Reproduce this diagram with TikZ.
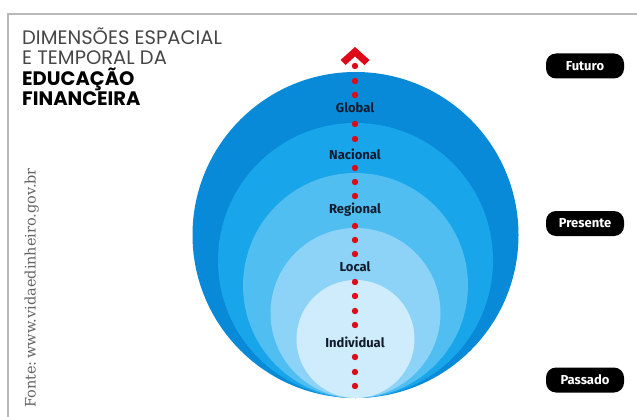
\documentclass[tikz,border=0pt]{standalone}
\usepackage{fontspec}
\setmainfont{Fira Sans}
\newfontfamily\titlefont{Poppins}
\newfontfamily\srcfont{DejaVu Serif}
\definecolor{ringA}{RGB}{8,138,216}
\definecolor{ringB}{RGB}{24,165,233}
\definecolor{ringC}{RGB}{80,190,241}
\definecolor{ringD}{RGB}{140,211,247}
\definecolor{ringE}{RGB}{206,236,251}
\definecolor{dotred}{RGB}{222,10,25}
\definecolor{labelnavy}{RGB}{18,28,45}
\definecolor{framegrey}{RGB}{185,185,185}
\definecolor{titlegrey}{RGB}{70,70,70}
\definecolor{srcgrey}{RGB}{100,100,100}
\tikzset{
  ringlabel/.style={font=\bfseries\fontsize{13}{15}\selectfont, text=labelnavy, inner sep=1pt},
  pill/.style={fill=black, rounded corners=10pt, minimum width=78pt, minimum height=25pt, text=white, font=\bfseries\fontsize{13}{14}\selectfont, inner sep=0pt},
  reddot/.style={fill=dotred, draw=none},
  titlelight/.style={font=\titlefont\fontsize{19.5}{21}\selectfont, text=titlegrey, anchor=base west, inner sep=0pt},
  titlebold/.style={font=\titlefont\bfseries\fontsize{19.5}{21}\selectfont, text=black, anchor=base west, inner sep=0pt}
}
\begin{document}
\begin{tikzpicture}[x=1pt,y=-1pt]
\useasboundingbox (0,0) rectangle (637,417);
\fill[white] (0,0) rectangle (637,417);
% frame
\draw[framegrey, line width=1.2pt] (8,417) -- (8,14) -- (637,14);
% rings
\fill[ringA] (355.5,235) circle (163);
\fill[ringB] (355.5,260.5) circle (137.5);
\fill[ringC] (355.5,285.5) circle (112.5);
\fill[ringD] (355.5,313) circle (85);
\fill[ringE] (355.5,339) circle (59);
% dotted arrow
\foreach \yy in {66,81,95,124,139,168,182,196,226,240,254,282,296,311,325,357,372,386}
  \fill[reddot] (355,\yy) circle (3.2);
\fill[reddot] (355,47) -- (369.5,60) -- (364.5,65) -- (355,56.5) -- (345.5,65) -- (340.5,60) -- cycle;
% ring labels
\node[ringlabel] (global) at (355,108) {Global};
\node[ringlabel] (nacional) at (355,154) {Nacional};
\node[ringlabel] (regional) at (355,210) {Regional};
\node[ringlabel] (local) at (355,267) {Local};
\node[ringlabel] (individual) at (355,342) {Individual};
% pills
\node[pill] (futuro) at (585,66) {Futuro};
\node[pill] (presente) at (585,223.5) {Presente};
\node[pill] (passado) at (585,380) {Passado};
% title
\node[titlelight] (t1) at (22,45) {DIMENSÕES ESPACIAL};
\node[titlelight] (t2) at (22,64.5) {E TEMPORAL DA};
\node[titlebold] (t3) at (22,85.5) {EDUCAÇÃO};
\node[titlebold] (t4) at (22,105.5) {FINANCEIRA};
% source
\node[font=\srcfont\fontsize{14.5}{16}\selectfont, text=srcgrey, rotate=90, anchor=base west, inner sep=0pt] (src) at (35.5,408) {Fonte:\,www.vidaedinheiro.gov.br};
\end{tikzpicture}
\end{document}
